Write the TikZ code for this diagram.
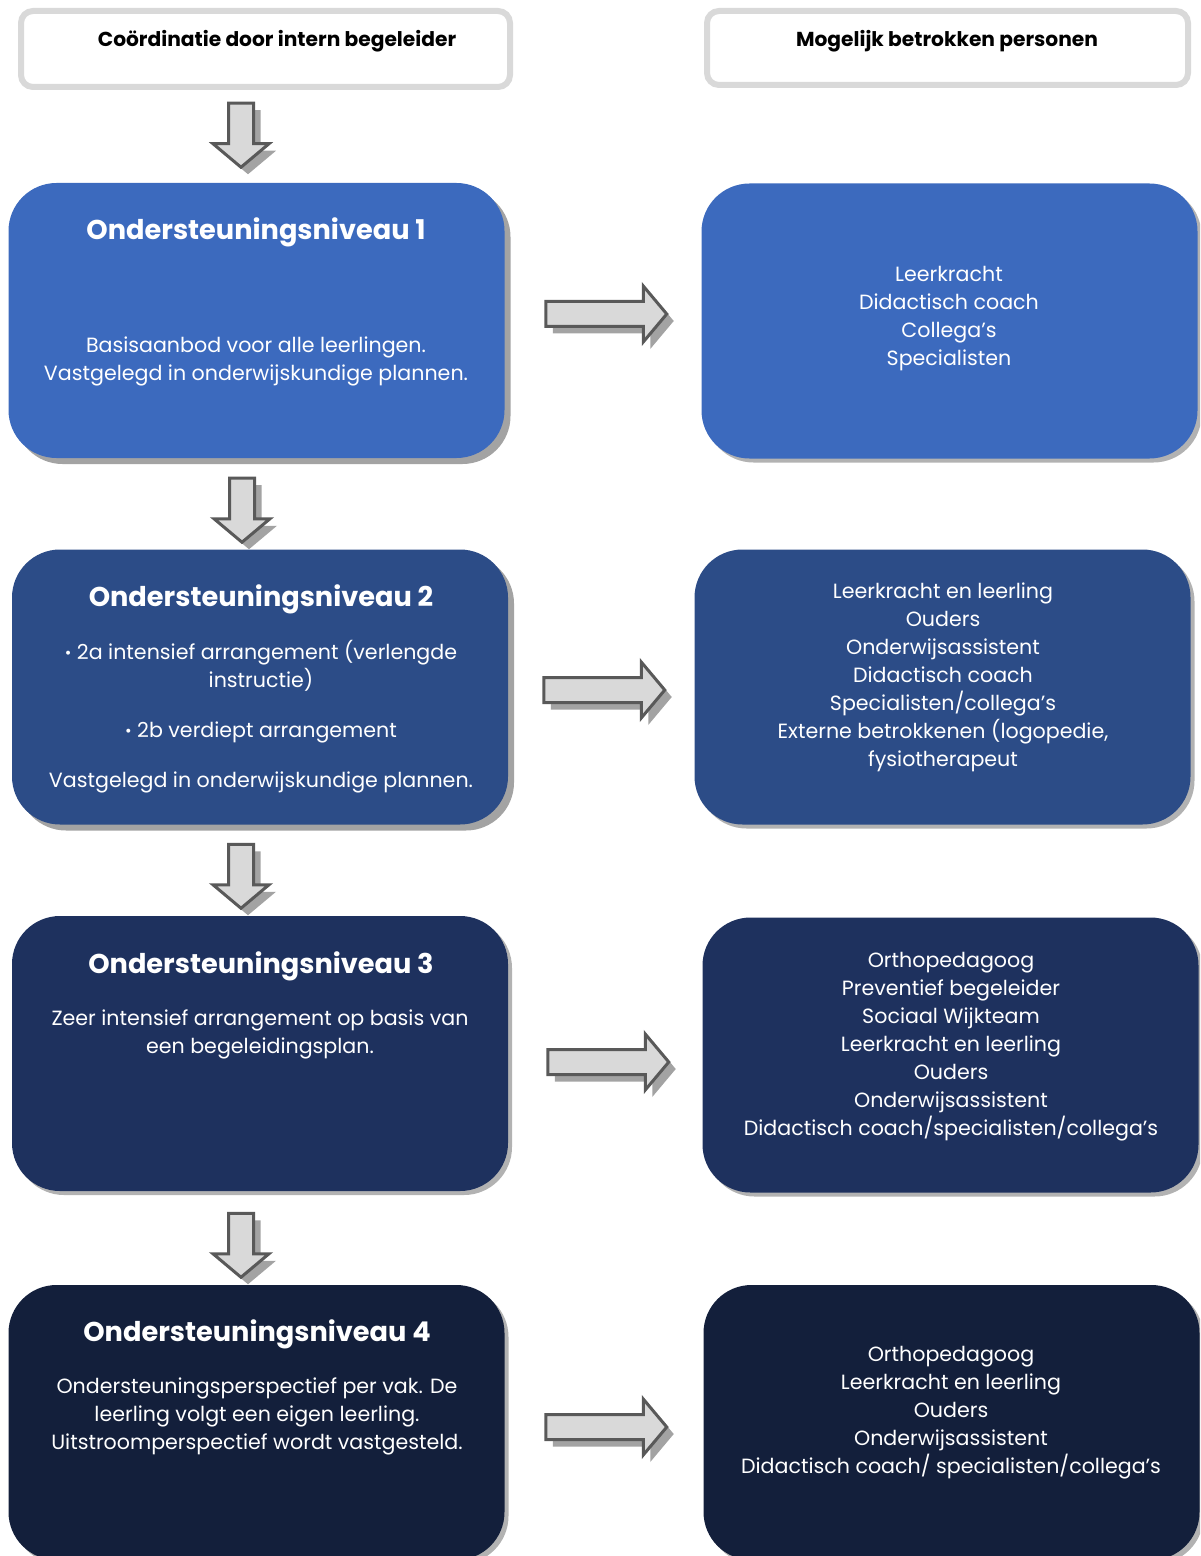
\documentclass[tikz,border=0pt]{standalone}
\usepackage{fontspec}
\setmainfont{Poppins}
\definecolor{myblueone}{HTML}{3C6ABE}
\definecolor{mybluetwo}{HTML}{2C4C87}
\definecolor{mybluethree}{HTML}{1E315E}
\definecolor{mybluefour}{HTML}{131F3B}
\definecolor{mylightgray}{HTML}{D9D9D9}
\definecolor{mydarkgray}{HTML}{595959}
\definecolor{myshadow}{HTML}{A3A3A3}
\usetikzlibrary{positioning, shapes.arrows, shadows}
\newcommand{\smallbullet}{{\fontsize{8}{8}\selectfont\raisebox{.15ex}{•}}}
\tikzset{
	headbox/.style={
			rectangle,
			rounded corners=6pt,
			draw=mylightgray,
			line width=3pt,
			fill=white,
			minimum height=38pt,
			inner sep=0pt
		},
	headtext/.style={
			font=\fontsize{10.1}{12}\selectfont\bfseries,
			text=black,
			yshift=-1.5pt
		},
	levelbox/.style={
			rectangle,
			rounded corners=24pt,
			minimum width=248pt,
			minimum height=137.5pt,
			inner sep=0pt
		},
	hardshadow/.style={
			drop shadow={shadow xshift=3pt, shadow yshift=-3pt, fill=myshadow, opacity=1}
		},
	softshadow/.style={
			drop shadow={shadow xshift=2pt, shadow yshift=-2pt, fill=black, opacity=.3}
		},
	titletext/.style={
			font=\fontsize{13.6}{16}\selectfont\bfseries,
			text=white,
			yshift=-2pt
		},
	bodytext/.style={
			font=\fontsize{10.3}{14}\selectfont,
			text=white,
			align=center,
			yshift=-1.5pt
		},
	blockarrow/.style={
			single arrow,
			draw=mydarkgray,
			fill=mylightgray,
			line width=1.5pt,
			inner sep=5.5pt,
			single arrow head extend=7.75pt,
			single arrow tip angle=100,
			drop shadow={shadow xshift=3.5pt, shadow yshift=-3.5pt, fill=myshadow, opacity=1}
		}
}

\begin{document}
\begin{tikzpicture}[x=0.5pt, y=-0.5pt]
\useasboundingbox (0,0) rectangle (1200,1556);
\clip (0,0) rectangle (1200,1556);

% headers
\node[headbox, minimum width=244.5pt] (hd1) at (265.5,49) {};
\node[headbox, minimum width=240.5pt, minimum height=37pt] (hd2) at (947.5,48) {};
\node[headtext] at (277,38) {Coördinatie door intern begeleider};
\node[headtext] at (947,38) {Mogelijk betrokken personen};

% left column
\node[levelbox, fill=myblueone, hardshadow] (lvl1) at (256.5,320.5) {};
\node[levelbox, fill=mybluetwo, hardshadow] (lvl2) at (260,687) {};
\node[levelbox, fill=mybluethree, softshadow] (lvl3) at (260,1053.5) {};
\node[levelbox, fill=mybluefour, softshadow] (lvl4) at (256.5,1422.5) {};

\node[titletext] at (256,228) {Ondersteuningsniveau 1};
\node[bodytext] at (256,358) {Basisaanbod voor alle leerlingen.\\Vastgelegd in onderwijskundige plannen.};
\node[titletext] at (261,595) {Ondersteuningsniveau 2};
\node[bodytext] at (261,714) {\smallbullet\ 2a intensief arrangement (verlengde\\instructie)\\[11pt]\smallbullet\ 2b verdiept arrangement\\[11pt]Vastgelegd in onderwijskundige plannen.};
\node[titletext] at (261,962) {Ondersteuningsniveau 3};
\node[bodytext] at (260,1031) {Zeer intensief arrangement op basis van\\een begeleidingsplan.};
\node[titletext] at (257,1330) {Ondersteuningsniveau 4};
\node[bodytext] at (257,1413) {Ondersteuningsperspectief per vak. De\\leerling volgt een eigen leerling.\\Uitstroomperspectief wordt vastgesteld.};

% right column
\node[levelbox, fill=myblueone, softshadow] (pers1) at (949.5,321) {};
\node[levelbox, fill=mybluetwo, softshadow] (pers2) at (942.5,687) {};
\node[levelbox, fill=mybluethree, softshadow] (pers3) at (950.5,1055) {};
\node[levelbox, fill=mybluefour, softshadow] (pers4) at (951.5,1422.5) {};

\node[bodytext] at (949,316) {Leerkracht\\Didactisch coach\\Collega’s\\Specialisten};
\node[bodytext] at (943,674) {Leerkracht en leerling\\Ouders\\Onderwijsassistent\\Didactisch coach\\Specialisten/collega’s\\Externe betrokkenen (logopedie,\\fysiotherapeut};
\node[bodytext] at (951,1044) {Orthopedagoog\\Preventief begeleider\\Sociaal Wijkteam\\Leerkracht en leerling\\Ouders\\Onderwijsassistent\\Didactisch coach/specialisten/collega’s};
\node[bodytext] at (951,1410) {Orthopedagoog\\Leerkracht en leerling\\Ouders\\Onderwijsassistent\\Didactisch coach/ specialisten/collega’s};

% down arrows
\node[blockarrow, shape border rotate=270, minimum height=32pt] (dn1) at (241,130) {};
\node[blockarrow, shape border rotate=270, minimum height=32pt] (dn2) at (242,505) {};
\node[blockarrow, shape border rotate=270, minimum height=32pt] (dn3) at (241,871) {};
\node[blockarrow, shape border rotate=270, minimum height=32pt] (dn4) at (241,1240) {};

% right arrows
\node[blockarrow, minimum height=60.5pt] (rt1) at (601,314) {};
\node[blockarrow, minimum height=60.5pt] (rt2) at (599,690) {};
\node[blockarrow, minimum height=60.5pt] (rt3) at (603,1062) {};
\node[blockarrow, minimum height=60.5pt] (rt4) at (601,1427) {};
\end{tikzpicture}
\end{document}
